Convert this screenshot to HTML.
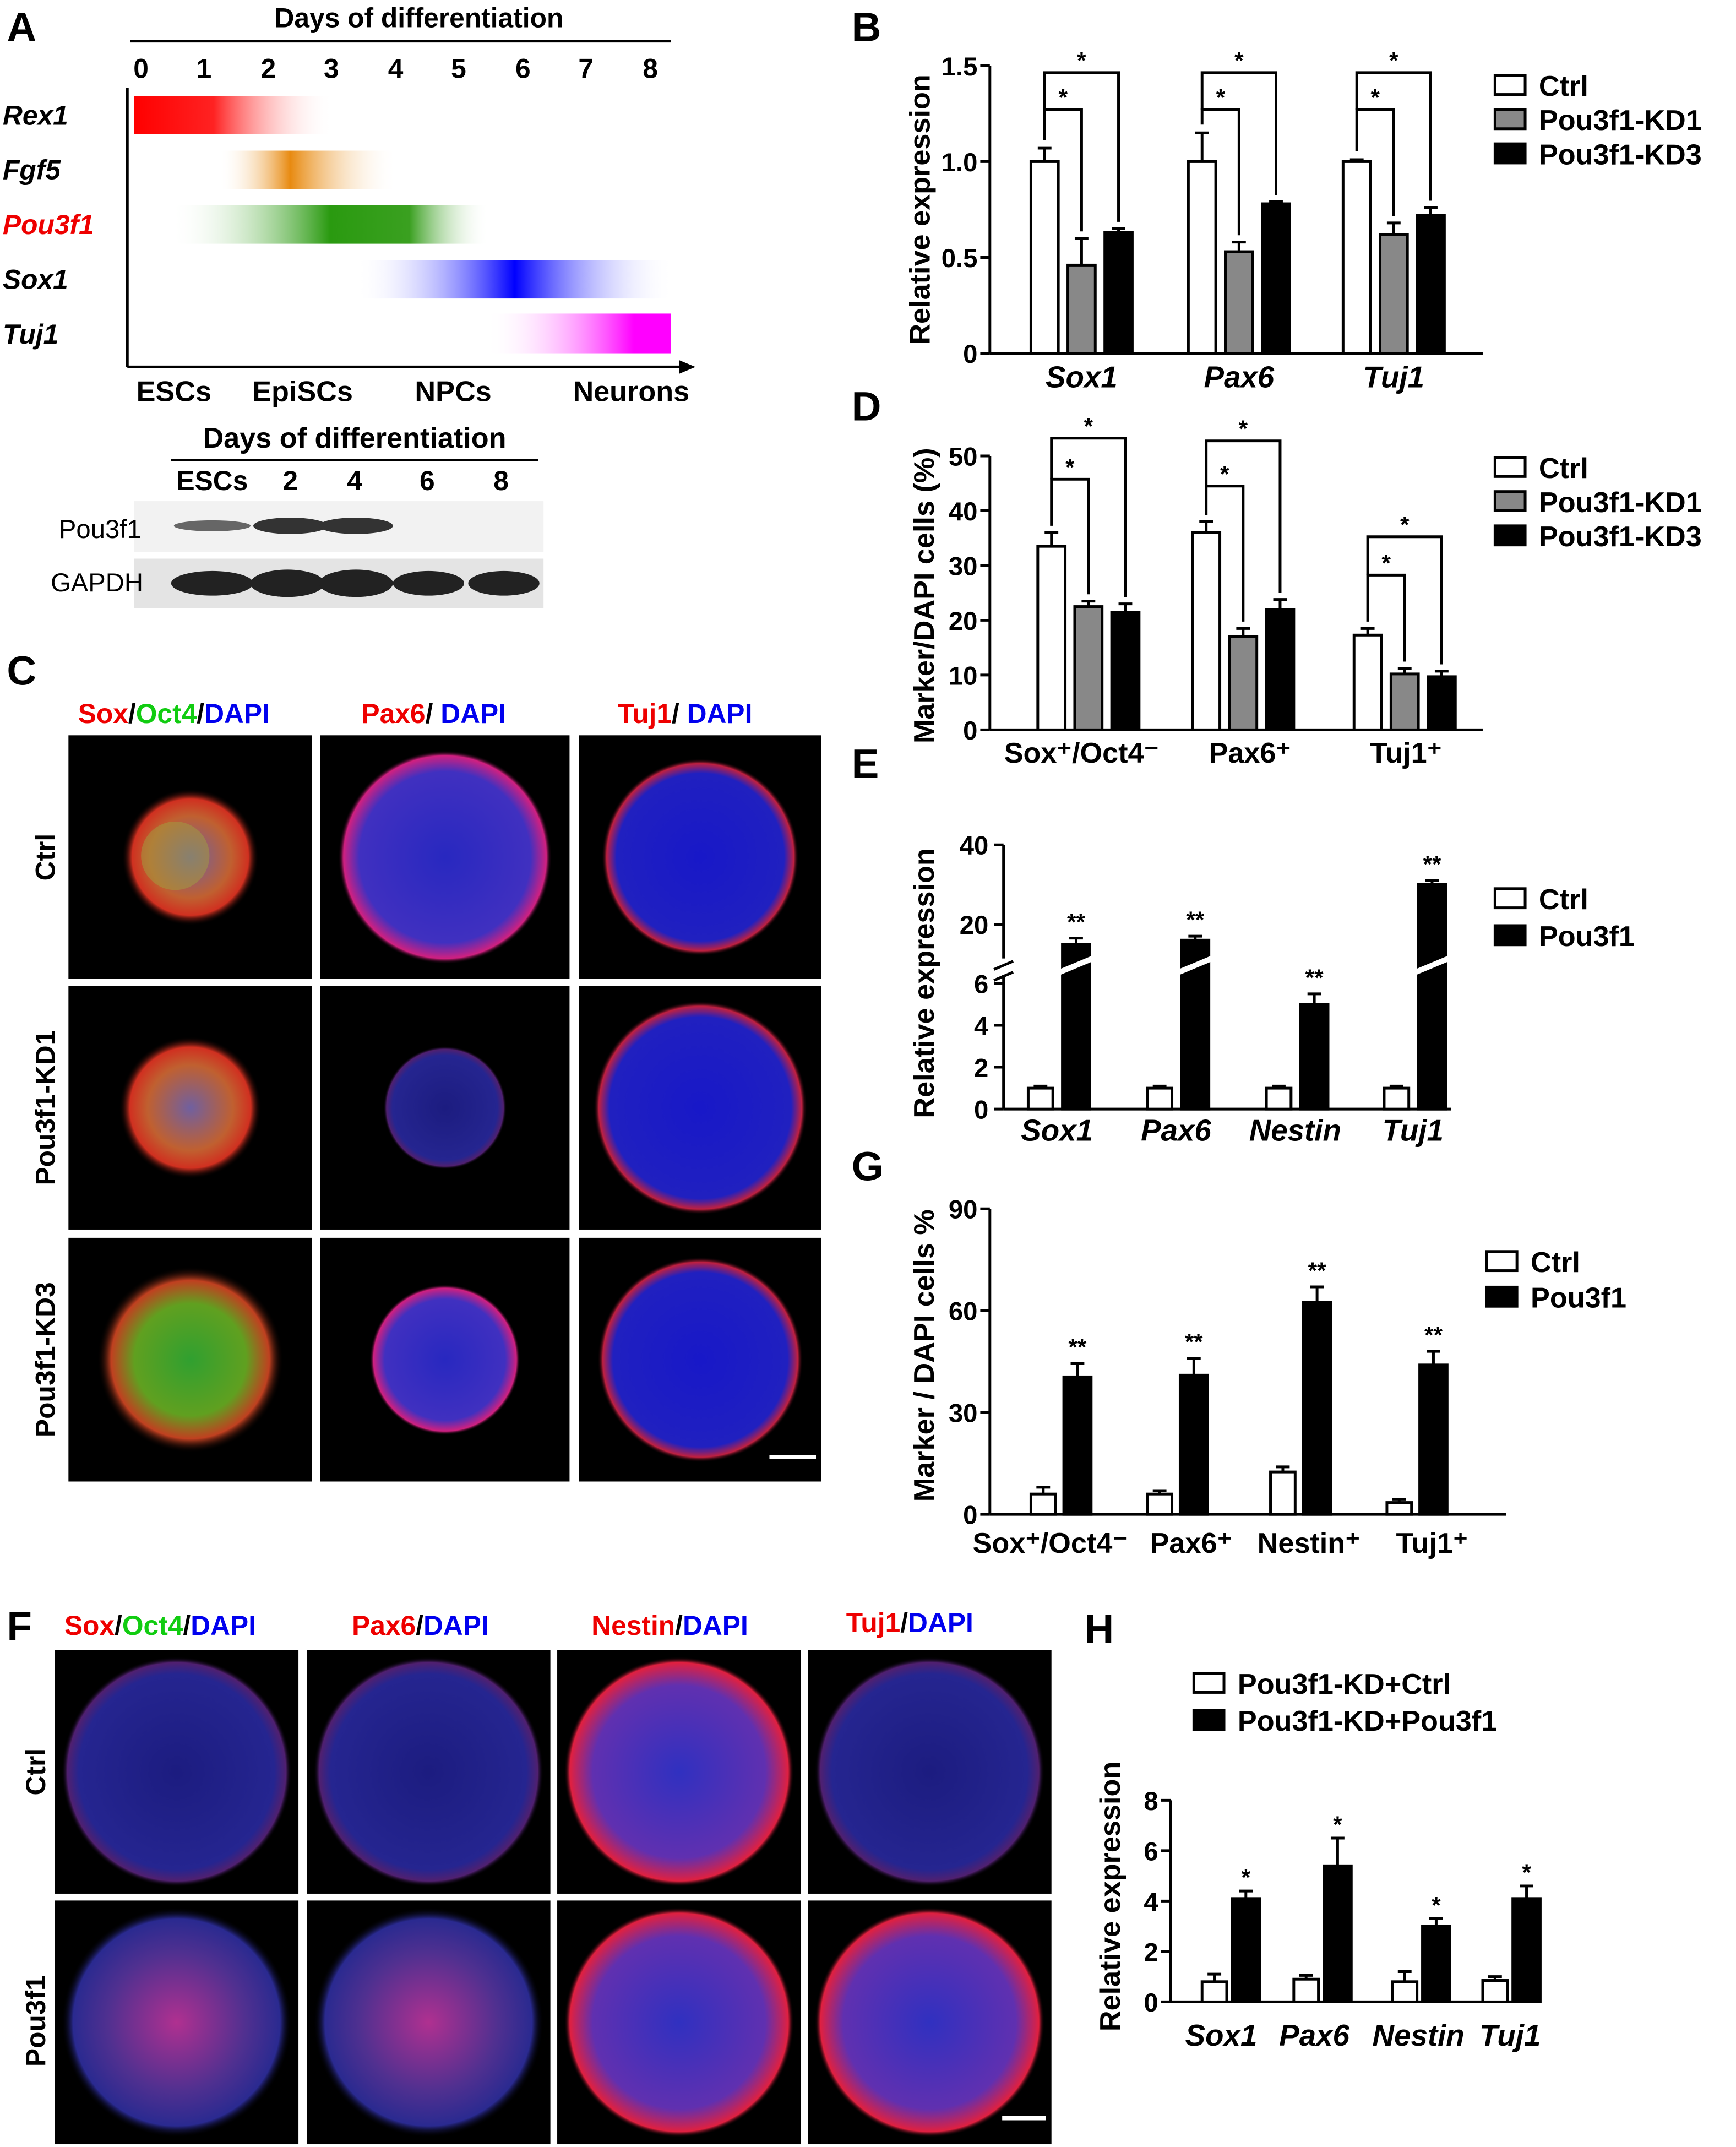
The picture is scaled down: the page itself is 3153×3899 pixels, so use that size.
<!DOCTYPE html>
<html><head><meta charset="utf-8"><style>
html,body{margin:0;padding:0;background:#fff}
svg{display:block}
text{font-family:"Liberation Sans",Arial,sans-serif;font-weight:bold;fill:#000}
</style></head><body>
<svg id="fig" width="3153" height="3899" viewBox="0 0 1268 1568" xmlns="http://www.w3.org/2000/svg">
<defs>
<linearGradient id="gRex" x1="0" x2="1"><stop offset="0" stop-color="#f00"/><stop offset="0.4" stop-color="#f22"/><stop offset="1" stop-color="#fff" stop-opacity="0"/></linearGradient>
<linearGradient id="gFgf" x1="0" x2="1"><stop offset="0" stop-color="#fff" stop-opacity="0"/><stop offset="0.4" stop-color="#e88a10"/><stop offset="1" stop-color="#fff" stop-opacity="0"/></linearGradient>
<linearGradient id="gPou" x1="0" x2="1"><stop offset="0" stop-color="#fff" stop-opacity="0"/><stop offset="0.5" stop-color="#2a9a10"/><stop offset="0.75" stop-color="#3aa020"/><stop offset="1" stop-color="#fff" stop-opacity="0"/></linearGradient>
<linearGradient id="gSox" x1="0" x2="1"><stop offset="0" stop-color="#fff" stop-opacity="0"/><stop offset="0.5" stop-color="#00f"/><stop offset="1" stop-color="#fff" stop-opacity="0"/></linearGradient>
<linearGradient id="gTuj" x1="0" x2="1"><stop offset="0" stop-color="#fff" stop-opacity="0"/><stop offset="0.8" stop-color="#f0f"/><stop offset="1" stop-color="#f0f"/></linearGradient>
<radialGradient id="bRim"><stop offset="0" stop-color="#2828c0"/><stop offset="0.8" stop-color="#4030c0"/><stop offset="0.95" stop-color="#d02080"/><stop offset="1" stop-color="#000" stop-opacity="0"/></radialGradient>
<radialGradient id="bRed"><stop offset="0" stop-color="#7060a0"/><stop offset="0.6" stop-color="#c06030"/><stop offset="0.85" stop-color="#d03020"/><stop offset="1" stop-color="#000" stop-opacity="0"/></radialGradient>
<radialGradient id="bGreen"><stop offset="0" stop-color="#30a030"/><stop offset="0.6" stop-color="#60a020"/><stop offset="0.85" stop-color="#c04020"/><stop offset="1" stop-color="#000" stop-opacity="0"/></radialGradient>
<radialGradient id="bTuj"><stop offset="0" stop-color="#1818c8"/><stop offset="0.85" stop-color="#2020c0"/><stop offset="0.95" stop-color="#c02040"/><stop offset="1" stop-color="#000" stop-opacity="0"/></radialGradient>
<radialGradient id="bDark"><stop offset="0" stop-color="#1c1c80"/><stop offset="0.85" stop-color="#252590"/><stop offset="0.95" stop-color="#502070"/><stop offset="1" stop-color="#000" stop-opacity="0"/></radialGradient>
<radialGradient id="bPink"><stop offset="0" stop-color="#b03090"/><stop offset="0.6" stop-color="#503090"/><stop offset="0.9" stop-color="#2a2a90"/><stop offset="1" stop-color="#000" stop-opacity="0"/></radialGradient>
<radialGradient id="bRedRim"><stop offset="0" stop-color="#3030c0"/><stop offset="0.75" stop-color="#6030b0"/><stop offset="0.95" stop-color="#e02040"/><stop offset="1" stop-color="#000" stop-opacity="0"/></radialGradient>
</defs>

<g>
<text x="5" y="30" font-size="30">A</text>
<text x="306" y="20" font-size="20" text-anchor="middle">Days of differentiation</text>
<line x1="95" y1="30" x2="490" y2="30" stroke="#000" stroke-width="2"/>
<g font-size="20" text-anchor="middle">
<text x="103" y="57">0</text><text x="149" y="57">1</text><text x="196" y="57">2</text><text x="242" y="57">3</text><text x="289" y="57">4</text><text x="335" y="57">5</text><text x="382" y="57">6</text><text x="428" y="57">7</text><text x="475" y="57">8</text>
</g>
<g font-size="20" font-style="italic">
<text x="2" y="91">Rex1</text><text x="2" y="131">Fgf5</text><text x="2" y="171" style="fill:#e00">Pou3f1</text><text x="2" y="211">Sox1</text><text x="2" y="251">Tuj1</text>
</g>
<rect x="98" y="70" width="145" height="28" fill="url(#gRex)"/>
<rect x="160" y="110" width="130" height="28" fill="url(#gFgf)"/>
<rect x="125" y="150" width="232" height="28" fill="url(#gPou)"/>
<rect x="260" y="190" width="232" height="28" fill="url(#gSox)"/>
<rect x="355" y="229" width="135" height="29" fill="url(#gTuj)"/>
<line x1="93" y1="64" x2="93" y2="268" stroke="#000" stroke-width="2"/>
<line x1="93" y1="268" x2="500" y2="268" stroke="#000" stroke-width="2"/>
<polygon points="508,268 496,263 496,273" fill="#000"/>
<g font-size="21" text-anchor="middle">
<text x="127" y="293">ESCs</text><text x="221" y="293">EpiSCs</text><text x="331" y="293">NPCs</text><text x="461" y="293">Neurons</text>
</g>
<text x="259" y="327" font-size="21" text-anchor="middle">Days of differentiation</text>
<line x1="125" y1="336" x2="393" y2="336" stroke="#000" stroke-width="2"/>
<g font-size="20" text-anchor="middle">
<text x="155" y="358">ESCs</text><text x="212" y="358">2</text><text x="259" y="358">4</text><text x="312" y="358">6</text><text x="366" y="358">8</text>
</g>
<rect x="98" y="366" width="299" height="37" fill="#f2f2f2"/>
<ellipse cx="155" cy="384" rx="28" ry="4" fill="#666"/>
<ellipse cx="212" cy="384" rx="27" ry="6" fill="#333"/>
<ellipse cx="260" cy="384" rx="27" ry="6" fill="#333"/>
<rect x="98" y="408" width="299" height="36" fill="#e4e4e4"/>
<g fill="#222"><ellipse cx="155" cy="426" rx="30" ry="9"/><ellipse cx="210" cy="426" rx="27" ry="10"/><ellipse cx="260" cy="426" rx="27" ry="10"/><ellipse cx="313" cy="426" rx="26" ry="9"/><ellipse cx="368" cy="426" rx="26" ry="9"/></g>
<text x="43" y="393" font-size="19" style="font-weight:normal">Pou3f1</text>
<text x="37" y="432" font-size="19" style="font-weight:normal">GAPDH</text>
</g>

<g>
<text x="5" y="500" font-size="30">C</text>
<g font-size="20">
<text x="57" y="528"><tspan style="fill:#e00">Sox</tspan>/<tspan style="fill:#1c1">Oct4</tspan>/<tspan style="fill:#00e">DAPI</tspan></text>
<text x="264" y="528"><tspan style="fill:#e00">Pax6</tspan>/ <tspan style="fill:#00e">DAPI</tspan></text>
<text x="451" y="528"><tspan style="fill:#e00">Tuj1</tspan>/ <tspan style="fill:#00e">DAPI</tspan></text>
</g>
<g font-size="20" text-anchor="middle">
<text transform="translate(40,626) rotate(-90)">Ctrl</text>
<text transform="translate(40,809) rotate(-90)">Pou3f1-KD1</text>
<text transform="translate(40,993) rotate(-90)">Pou3f1-KD3</text>
</g>
<g id="cimgs"></g>
</g>

<g>
<text x="5" y="1198" font-size="30">F</text>
<g font-size="20">
<text x="47" y="1194"><tspan style="fill:#e00">Sox</tspan>/<tspan style="fill:#1c1">Oct4</tspan>/<tspan style="fill:#00e">DAPI</tspan></text>
<text x="257" y="1194"><tspan style="fill:#e00">Pax6</tspan>/<tspan style="fill:#00e">DAPI</tspan></text>
<text x="432" y="1194"><tspan style="fill:#e00">Nestin</tspan>/<tspan style="fill:#00e">DAPI</tspan></text>
<text x="618" y="1192"><tspan style="fill:#e00">Tuj1</tspan>/<tspan style="fill:#00e">DAPI</tspan></text>
</g>
<g font-size="20" text-anchor="middle">
<text transform="translate(33,1294) rotate(-90)">Ctrl</text>
<text transform="translate(33,1476) rotate(-90)">Pou3f1</text>
</g>
<g id="fimgs"></g>
</g>

<g id="charts"></g>
</svg>
<script>
var NS="http://www.w3.org/2000/svg";
function mk(parent,tag,attrs,txt){var e=document.createElementNS(NS,tag);for(var k in attrs)e.setAttribute(k,attrs[k]);if(txt!==undefined)e.textContent=txt;parent.appendChild(e);return e;}

var cimgs=document.getElementById('cimgs');
var cCols=[[50,228],[234,416],[423,600]],cRows=[[537,715],[720,898],[904,1082]];
var cFill=[["bRed","bRim","bTuj"],["bRed","bDark","bTuj"],["bGreen","bRim","bTuj"]];
var cR=[[50,78,72],[52,45,78],[68,55,75]];
for(var r=0;r<3;r++)for(var c=0;c<3;c++){
 var x0=cCols[c][0],x1=cCols[c][1],y0=cRows[r][0],y1=cRows[r][1];
 var t=mk(cimgs,'rect',{x:x0,y:y0,width:x1-x0,height:y1-y0,fill:'#000'});
 
 
 mk(cimgs,'circle',{cx:(x0+x1)/2,cy:(y0+y1)/2,r:cR[r][c],fill:'url(#'+cFill[r][c]+')'});
}
mk(cimgs,'circle',{cx:128,cy:625,r:25,fill:'#a0a040',opacity:0.5});
mk(cimgs,'line',{x1:562,y1:1064,x2:596,y2:1064,stroke:'#fff','stroke-width':3});
var fimgs=document.getElementById('fimgs');
var fCols=[[40,218],[224,402],[407,585],[590,768]],fRows=[[1205,1383],[1388,1566]];
var fFill=[["bDark","bDark","bRedRim","bDark"],["bPink","bPink","bRedRim","bRedRim"]];
for(var r=0;r<2;r++)for(var c=0;c<4;c++){
 var x0=fCols[c][0],x1=fCols[c][1],y0=fRows[r][0],y1=fRows[r][1];
 var t=mk(fimgs,'rect',{x:x0,y:y0,width:x1-x0,height:y1-y0,fill:'#000'});
 
 
 mk(fimgs,'circle',{cx:(x0+x1)/2,cy:(y0+y1)/2,r:84,fill:'url(#'+fFill[r][c]+')'});
}
mk(fimgs,'line',{x1:732,y1:1547,x2:764,y2:1547,stroke:'#fff','stroke-width':3});

var bGroups=["Sox1","Pax6","Tuj1"];
var bCtrl=[1.0,1.0,1.0],bKD1=[0.46,0.53,0.62],bKD3=[0.63,0.78,0.72];
var bErrCtrl=[0.07,0.15,0.01],bErrKD1=[0.14,0.05,0.06],bErrKD3=[0.02,0.01,0.04];
var bTicks=[0,0.5,1.0,1.5],bTickLabels=["0","0.5","1.0","1.5"];

var dGroups=["Sox\u207A/Oct4\u207B","Pax6\u207A","Tuj1\u207A"];
var dCtrl=[33.5,36,17.3],dKD1=[22.5,17,10.2],dKD3=[21.5,22,9.7];
var dErrCtrl=[2.5,2,1.2],dErrKD1=[1,1.5,1],dErrKD3=[1.5,1.8,1];
var dTicks=[0,10,20,30,40,50];

var eGroups=["Sox1","Pax6","Nestin","Tuj1"];
var eCtrl=[1,1,1,1],ePou=[15,16,5,30];
var eErrCtrl=[0.1,0.1,0.1,0.1],eErrPou=[1.5,1,0.5,1];
var eTicks=[0,2,4,6,20,40];

var gGroups=["Sox\u207A/Oct4\u207B","Pax6\u207A","Nestin\u207A","Tuj1\u207A"];
var gCtrl=[6,6,12.5,3.5],gPou=[40.5,41,62.5,44];
var gErrCtrl=[2,1,1.5,1],gErrPou=[4,5,4.5,4];
var gTicks=[0,30,60,90];

var hGroups=["Sox1","Pax6","Nestin","Tuj1"];
var hCtrl=[0.8,0.9,0.8,0.85],hPou=[4.1,5.4,3.0,4.1];
var hErrCtrl=[0.3,0.15,0.4,0.15],hErrPou=[0.3,1.1,0.3,0.5];
var hTicks=[0,2,4,6,8];

var charts=document.getElementById('charts');

function axisY(g,x,ticks,labels,yf,fs){
 var ys=ticks.map(yf);
 mk(g,'line',{x1:x,y1:Math.min.apply(null,ys),x2:x,y2:Math.max.apply(null,ys),stroke:'#000','stroke-width':2});
 ticks.forEach(function(t,i){var y=yf(t);
  mk(g,'line',{x1:x-7,y1:y,x2:x,y2:y,stroke:'#000','stroke-width':2});
  mk(g,'text',{x:x-9,y:y+7,'font-size':fs,'text-anchor':'end'},labels?labels[i]:String(t));});
}
function bar(g,cx,w,v,err,yf,fill,name){
 var y=yf(v),y0=yf(0);
 mk(g,'line',{x1:cx,y1:yf(v+err),x2:cx,y2:y,stroke:'#000','stroke-width':2});
 mk(g,'line',{x1:cx-5,y1:yf(v+err),x2:cx+5,y2:yf(v+err),stroke:'#000','stroke-width':2});
 var r=mk(g,'rect',{x:cx-w/2,y:y,width:w,height:y0-y,fill:fill,stroke:'#000','stroke-width':2});
 
 
 return r;
}
function bracket(g,x1,y1top,x2,y2top,ytop){
 mk(g,'polyline',{points:x1+','+y1top+' '+x1+','+ytop+' '+x2+','+ytop+' '+x2+','+y2top,fill:'none',stroke:'#000','stroke-width':2});
 mk(g,'text',{x:(x1+x2)/2,y:ytop-3,'font-size':17,'text-anchor':'middle'},'*');
}
function legend(g,x,y0,dy,items){
 items.forEach(function(it,i){
  var y=y0+i*dy;
  var r=mk(g,'rect',{x:x,y:y-12,width:22,height:14,fill:it[1],stroke:'#000','stroke-width':2});
  
  
  mk(g,'text',{x:x+32,y:y+3,'font-size':21},it[0]);
 });
}
function ytitle(g,x,cy,txt,fs){mk(g,'text',{transform:'translate('+x+','+cy+') rotate(-90)','font-size':fs||21,'text-anchor':'middle'},txt);}

(function(){
 var g=mk(charts,'g',{});
 
 
 mk(g,'text',{x:622,y:30,'font-size':30},'B');
 var yf=function(v){return 258-v*140;};
 axisY(g,723,bTicks,bTickLabels,yf,19);
 mk(g,'line',{x1:723,y1:258,x2:1083,y2:258,stroke:'#000','stroke-width':2});
 var centers=[790,905,1018];
 bGroups.forEach(function(n,i){
  var c=centers[i];
  bar(g,c-27,20,bCtrl[i],bErrCtrl[i],yf,'#fff','bar-ctrl-'+n);
  bar(g,c,20,bKD1[i],bErrKD1[i],yf,'#888','bar-kd1-'+n);
  bar(g,c+27,20,bKD3[i],bErrKD3[i],yf,'#000','bar-kd3-'+n);
  var top=yf(bCtrl[i]+bErrCtrl[i])-6;
  bracket(g,c-27,top,c,yf(bKD1[i]+bErrKD1[i])-5,Math.min(top,80));
  bracket(g,c-27,Math.min(top,80),c+27,yf(bKD3[i]+bErrKD3[i])-5,53);
  mk(g,'text',{x:c,y:283,'font-size':22,'font-style':'italic','text-anchor':'middle'},n);
 });
 ytitle(g,679,153,'Relative expression');
 legend(g,1092,67,25,[['Ctrl','#fff'],['Pou3f1-KD1','#888'],['Pou3f1-KD3','#000']]);
})();

(function(){
 var g=mk(charts,'g',{});
 
 
 mk(g,'text',{x:622,y:307,'font-size':30},'D');
 var yf=function(v){return 533-v*4;};
 axisY(g,723,dTicks,null,yf,19);
 mk(g,'line',{x1:723,y1:533,x2:1083,y2:533,stroke:'#000','stroke-width':2});
 var centers=[795,908,1026];
 var bt=[[350,320],[355,322],[420,392]];
 dGroups.forEach(function(n,i){
  var c=centers[i];
  bar(g,c-27,20,dCtrl[i],dErrCtrl[i],yf,'#fff','bar-ctrl-'+i);
  bar(g,c,20,dKD1[i],dErrKD1[i],yf,'#888','bar-kd1-'+i);
  bar(g,c+27,20,dKD3[i],dErrKD3[i],yf,'#000','bar-kd3-'+i);
  bracket(g,c-27,yf(dCtrl[i]+dErrCtrl[i])-5,c,yf(dKD1[i]+dErrKD1[i])-5,bt[i][0]);
  bracket(g,c-27,bt[i][0],c+27,yf(dKD3[i]+dErrKD3[i])-5,bt[i][1]);
 });
 mk(g,'text',{x:790,y:557,'font-size':21,'text-anchor':'middle'},dGroups[0]);
 mk(g,'text',{x:913,y:557,'font-size':21,'text-anchor':'middle'},dGroups[1]);
 mk(g,'text',{x:1027,y:557,'font-size':21,'text-anchor':'middle'},dGroups[2]);
 ytitle(g,682,435,'Marker/DAPI cells (%)');
 legend(g,1092,346,25,[['Ctrl','#fff'],['Pou3f1-KD1','#888'],['Pou3f1-KD3','#000']]);
})();

(function(){
 var g=mk(charts,'g',{});
 
 
 mk(g,'text',{x:622,y:568,'font-size':30},'E');
 var yf=function(v){return v<=6?810-v*15.3:675-(v-20)*2.9;};
 mk(g,'line',{x1:733,y1:617,x2:733,y2:700,stroke:'#000','stroke-width':2});
 mk(g,'line',{x1:733,y1:712,x2:733,y2:810,stroke:'#000','stroke-width':2});
 mk(g,'line',{x1:726,y1:708,x2:740,y2:702,stroke:'#000','stroke-width':2});
 mk(g,'line',{x1:726,y1:716,x2:740,y2:710,stroke:'#000','stroke-width':2});
 eTicks.forEach(function(t){var y=yf(t);
  mk(g,'line',{x1:726,y1:y,x2:733,y2:y,stroke:'#000','stroke-width':2});
  mk(g,'text',{x:722,y:y+7,'font-size':19,'text-anchor':'end'},String(t));});
 mk(g,'line',{x1:733,y1:810,x2:1060,y2:810,stroke:'#000','stroke-width':2});
 var centers=[772,859,946,1032];
 eGroups.forEach(function(n,i){
  var c=centers[i];
  bar(g,c-12,18,eCtrl[i],eErrCtrl[i],yf,'#fff','bar-ctrl-'+n);
  bar(g,c+14,20,ePou[i],eErrPou[i],yf,'#000','bar-pou3f1-'+n);
  mk(g,'line',{x1:c+2,y1:710,x2:c+26,y2:700,stroke:'#fff','stroke-width':4});
  mk(g,'text',{x:c+14,y:yf(ePou[i]+eErrPou[i])-6,'font-size':17,'text-anchor':'middle'},'**');
  mk(g,'text',{x:c,y:833,'font-size':22,'font-style':'italic','text-anchor':'middle'},n);
 });
 ytitle(g,682,718,'Relative expression');
 legend(g,1092,661,27,[['Ctrl','#fff'],['Pou3f1','#000']]);
})();

(function(){
 var g=mk(charts,'g',{});
 
 
 mk(g,'text',{x:622,y:862,'font-size':30},'G');
 var yf=function(v){return 1106-v*2.48;};
 axisY(g,723,gTicks,null,yf,19);
 mk(g,'line',{x1:723,y1:1106,x2:1100,y2:1106,stroke:'#000','stroke-width':2});
 var centers=[775,860,950,1035];
 gGroups.forEach(function(n,i){
  var c=centers[i];
  bar(g,c-13,18,gCtrl[i],gErrCtrl[i],yf,'#fff','bar-ctrl-'+i);
  bar(g,c+12,20,gPou[i],gErrPou[i],yf,'#000','bar-pou3f1-'+i);
  mk(g,'text',{x:c+12,y:yf(gPou[i]+gErrPou[i])-6,'font-size':17,'text-anchor':'middle'},'**');
 });
 [[767,0],[870,1],[956,2],[1046,3]].forEach(function(p){mk(g,'text',{x:p[0],y:1134,'font-size':21,'text-anchor':'middle'},gGroups[p[1]]);});
 ytitle(g,682,990,'Marker / DAPI cells %');
 legend(g,1086,926,26,[['Ctrl','#fff'],['Pou3f1','#000']]);
})();

(function(){
 var g=mk(charts,'g',{});
 
 
 mk(g,'text',{x:792,y:1200,'font-size':30},'H');
 var yf=function(v){return 1462-v*18.4;};
 axisY(g,855,hTicks,null,yf,19);
 mk(g,'line',{x1:855,y1:1462,x2:1125,y2:1462,stroke:'#000','stroke-width':2});
 var centers=[898,965,1037,1103];
 hGroups.forEach(function(n,i){
  var c=centers[i];
  bar(g,c-11,18,hCtrl[i],hErrCtrl[i],yf,'#fff','bar-ctrl-'+n);
  bar(g,c+12,20,hPou[i],hErrPou[i],yf,'#000','bar-pou3f1-'+n);
  mk(g,'text',{x:c+12,y:yf(hPou[i]+hErrPou[i])-4,'font-size':17,'text-anchor':'middle'},'*');
 });
 [[892,0],[960,1],[1036,2],[1103,3]].forEach(function(p){mk(g,'text',{x:p[0],y:1494,'font-size':22,'font-style':'italic','text-anchor':'middle'},hGroups[p[1]]);});
 ytitle(g,818,1385,'Relative expression');
 legend(g,872,1234,27,[['Pou3f1-KD+Ctrl','#fff'],['Pou3f1-KD+Pou3f1','#000']]);
})();
</script>
</body></html>
